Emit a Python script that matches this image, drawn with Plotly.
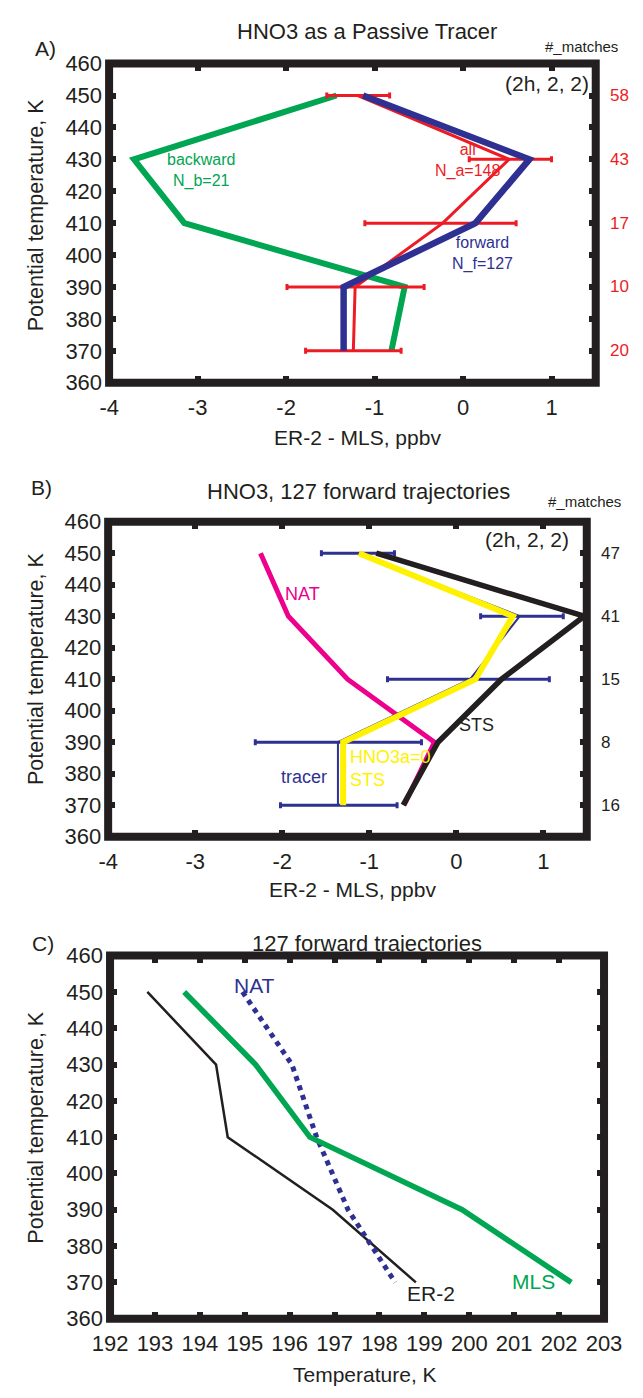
import plotly.graph_objects as go

# ---------------- data ----------------
levels = [450, 430, 410, 390, 370]

# Panel A: HNO3 as a passive tracer (ER-2 - MLS, ppbv)
a_backward = [-1.43, -3.72, -3.15, -0.66, -0.81]
a_forward = [-1.13, 0.75, 0.14, -1.35, -1.35]
a_all = [-1.19, 0.52, -0.23, -1.22, -1.24]
a_all_err_minus = [0.35, 0.45, 0.88, 0.77, 0.54]
a_all_err_plus = [0.36, 0.48, 0.83, 0.78, 0.54]
a_matches = ["58", "43", "17", "10", "20"]

# Panel B: HNO3, 127 forward trajectories
b_tracer = [-1.13, 0.73, 0.16, -1.36, -1.36]
b_tracer_err_minus = [0.42, 0.45, 0.95, 0.95, 0.66]
b_tracer_err_plus = [0.42, 0.50, 0.91, 0.96, 0.68]
b_nat = [-2.25, -1.93, -1.25, -0.25, -0.60]
b_sts = [-0.92, 1.47, 0.52, -0.21, -0.61]
b_hno3a0 = [-1.12, 0.65, 0.22, -1.30, -1.30]
b_matches = ["47", "41", "15", "8", "16"]

# Panel C: temperatures (K)
c_er2 = [192.83, 194.36, 194.62, 196.96, 198.81]
c_mls = [193.65, 195.24, 196.45, 199.84, 202.27]
c_nat = [194.95, 196.05, 196.60, 197.30, 198.35]

y_ticks = [360, 370, 380, 390, 400, 410, 420, 430, 440, 450, 460]
ab_x_ticks = [-4, -3, -2, -1, 0, 1]
c_x_ticks = list(range(192, 204))

# ---------------- style ----------------
W, H = 643, 1398
FONT = "Liberation Sans, Arial, Helvetica, sans-serif"
GREEN = "#00A651"
BLUE = "#2E3192"
RED = "#ED1C24"
MAGENTA = "#EC008C"
YELLOW = "#FFF200"
BLACK = "#231F20"


def px(x):
    return x / W


def py(y):
    return 1 - y / H


fig = go.Figure()

# Panel A traces
fig.add_trace(go.Scatter(x=a_backward, y=levels, mode="lines",
                         line=dict(color=GREEN, width=6), xaxis="x", yaxis="y"))
fig.add_trace(go.Scatter(x=a_all, y=levels, mode="lines",
                         line=dict(color=RED, width=3),
                         error_x=dict(type="data", symmetric=False, array=a_all_err_plus,
                                      arrayminus=a_all_err_minus, color=RED,
                                      thickness=3, width=3),
                         xaxis="x", yaxis="y"))
fig.add_trace(go.Scatter(x=a_forward, y=levels, mode="lines",
                         line=dict(color=BLUE, width=6.5), xaxis="x", yaxis="y"))

# Panel B traces
fig.add_trace(go.Scatter(x=b_nat, y=levels, mode="lines",
                         line=dict(color=MAGENTA, width=5), xaxis="x2", yaxis="y2"))
fig.add_trace(go.Scatter(x=b_tracer, y=levels, mode="lines",
                         line=dict(color=BLUE, width=2),
                         error_x=dict(type="data", symmetric=False, array=b_tracer_err_plus,
                                      arrayminus=b_tracer_err_minus, color=BLUE,
                                      thickness=3, width=3),
                         xaxis="x2", yaxis="y2"))
fig.add_trace(go.Scatter(x=b_sts, y=levels, mode="lines",
                         line=dict(color=BLACK, width=5.5), xaxis="x2", yaxis="y2"))
fig.add_trace(go.Scatter(x=b_hno3a0, y=levels, mode="lines",
                         line=dict(color=YELLOW, width=6), xaxis="x2", yaxis="y2"))

# Panel C traces
fig.add_trace(go.Scatter(x=c_er2, y=levels, mode="lines",
                         line=dict(color=BLACK, width=2.5), xaxis="x3", yaxis="y3"))
fig.add_trace(go.Scatter(x=c_nat, y=levels, mode="lines",
                         line=dict(color=BLUE, width=5, dash="dot"), xaxis="x3", yaxis="y3"))
fig.add_trace(go.Scatter(x=c_mls, y=levels, mode="lines",
                         line=dict(color=GREEN, width=5.5), xaxis="x3", yaxis="y3"))

# ---------------- axes ----------------
tickfont = dict(family=FONT, size=22, color=BLACK)


def xax(domain, rng, ticks, anchor):
    return dict(domain=domain, range=rng, tickvals=ticks, ticktext=[str(t) for t in ticks],
                showgrid=False, zeroline=False, showline=False, ticks="inside",
                ticklen=7, tickwidth=6, tickcolor=BLACK, mirror="ticks",
                tickfont=tickfont, ticklabelstandoff=9, anchor=anchor, fixedrange=True)


def yax(domain, anchor):
    return dict(domain=domain, range=[359.99, 460.01], tickvals=y_ticks,
                ticktext=[str(t) for t in y_ticks],
                showgrid=False, zeroline=False, showline=False, ticks="inside",
                ticklen=7, tickwidth=6, tickcolor=BLACK, mirror="ticks",
                tickfont=tickfont, ticklabelstandoff=6, anchor=anchor, fixedrange=True)


# frame pixel positions (centres of the thick frame): left, right, top, bottom
A_box = (96.5, 612, 52.5, 377.5)
B_box = (95.5, 602.5, 519, 839.7)
C_box = (97.5, 620.8, 960.8, 1330.5)


def dom(box):
    l, r, t, b = box
    return [px(l), px(r)], [py(b), py(t)]


ax_dom, ay_dom = dom(A_box)
bx_dom, by_dom = dom(B_box)
cx_dom, cy_dom = dom(C_box)

fig.update_layout(
    xaxis=xax(ax_dom, [-4.001, 1.5], ab_x_ticks, "y"),
    yaxis=yax(ay_dom, "x"),
    xaxis2=xax(bx_dom, [-4.001, 1.5], ab_x_ticks, "y2"),
    yaxis2=yax(by_dom, "x2"),
    xaxis3=xax(cx_dom, [191.999, 203.001], c_x_ticks, "y3"),
    yaxis3=yax(cy_dom, "x3"),
)

# frames
shapes = []
for xr, yr in [("x", "y"), ("x2", "y2"), ("x3", "y3")]:
    shapes.append(dict(type="rect", xref=f"{xr} domain", yref=f"{yr} domain",
                       x0=0, x1=1, y0=0, y1=1, line=dict(color=BLACK, width=8),
                       fillcolor="rgba(0,0,0,0)", layer="above"))

# ---------------- text ----------------
ann = []


def ptext(text, x, y, size, color=BLACK, xanchor="center", angle=0):
    ann.append(dict(text=text, x=px(x), y=py(y), xref="paper", yref="paper",
                    showarrow=False, xanchor=xanchor, yanchor="middle",
                    textangle=angle, font=dict(family=FONT, size=size, color=color)))


def dtext(text, x, y, xr, yr, size, color, xanchor="center", align="center"):
    ann.append(dict(text=text, x=x, y=y, xref=xr, yref=yr, showarrow=False,
                    xanchor=xanchor, yanchor="middle", align=align,
                    font=dict(family=FONT, size=size, color=color)))


# Panel A
ptext("HNO3 as a Passive Tracer", 370, 20, 22)
ptext("A)", 29, 37, 21)
ptext("#_matches", 597, 35, 15)
ptext("Potential temperature, K", 19, 206, 21.5, angle=-90)
ptext("ER-2 - MLS, ppbv", 360, 433, 21)
for lv, m in zip(levels, a_matches):
    dtext(m, 1.025, lv, "x domain", "y", 17, RED, xanchor="left")
dtext("(2h, 2, 2)", 0.99, 453.8, "x domain", "y", 21, BLACK, xanchor="right")
dtext("backward<br>N_b=21", -2.96, 426.6, "x", "y", 16, GREEN)
dtext("all<br>N_a=148", 0.05, 429.5, "x", "y", 16, RED)
dtext("forward<br>N_f=127", 0.22, 400.5, "x", "y", 16, BLUE)

# Panel B
ptext("HNO3, 127 forward trajectories", 361, 488, 22)
ptext("B)", 25, 484, 21)
ptext("#_matches", 600, 498, 15)
ptext("Potential temperature, K", 19, 668, 21.5, angle=-90)
ptext("ER-2 - MLS, ppbv", 354, 893, 21)
for lv, m in zip(levels, b_matches):
    dtext(m, 1.025, lv, "x2 domain", "y2", 17, BLACK, xanchor="left")
dtext("(2h, 2, 2)", 0.968, 454.3, "x2 domain", "y2", 21, BLACK, xanchor="right")
dtext("NAT", -1.77, 437.0, "x2", "y2", 18, MAGENTA)
dtext("STS", 0.23, 395.3, "x2", "y2", 18, BLACK)
dtext("HNO3a=0<br>STS", -1.25, 381.6, "x2", "y2", 18, YELLOW, xanchor="left", align="left")
dtext("tracer", -1.75, 378.8, "x2", "y2", 18, BLUE)

# Panel C
ptext("127 forward trajectories", 370, 948, 22)
ptext("C)", 27, 948, 21)
ptext("Potential temperature, K", 19, 1135, 21.5, angle=-90)
ptext("Temperature, K", 368, 1387, 21)
dtext("NAT", 195.22, 451.9, "x3", "y3", 21, BLUE)
dtext("ER-2", 199.15, 366.8, "x3", "y3", 21, BLACK)
dtext("MLS", 201.44, 370.2, "x3", "y3", 21, GREEN)

fig.update_layout(
    width=W, height=H,
    margin=dict(l=0, r=0, t=0, b=0),
    paper_bgcolor="white", plot_bgcolor="white",
    showlegend=False,
    shapes=shapes,
    annotations=ann,
    font=dict(family=FONT, color=BLACK),
)

fig.write_html("out.html", config=dict(displayModeBar=False),
               post_script="document.body.style.margin='0';document.body.style.overflow='hidden';")
